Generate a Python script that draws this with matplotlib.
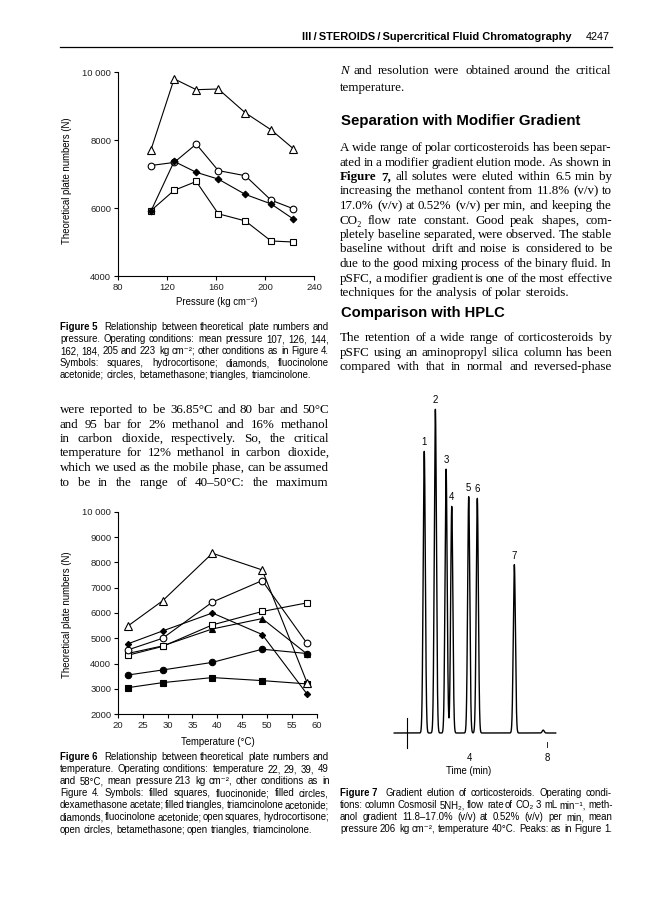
import numpy as np
import matplotlib
matplotlib.use('Agg')
import matplotlib.pyplot as plt

W, H = 668, 900
SERIF = ['Liberation Serif', 'DejaVu Serif']
SANS = ['Liberation Sans', 'DejaVu Sans']

# ---- figure 5 data (pressure series) ----
pressure = [107, 126, 144, 162, 184, 205, 223]
f5_triangles = [7700, 9800, 9480, 9500, 8800, 8300, 7750]
f5_circles = [7250, 7340, 7880, 7100, 6950, 6230, 5980]
f5_diamonds = [5900, 7370, 7050, 6850, 6400, 6120, 5680]
f5_squares = [5920, 6520, 6780, 5830, 5620, 5030, 5000]

# ---- figure 6 data (temperature series) ----
temperature = [22, 29, 39, 49, 58]
f6_filled_squares = [3050, 3250, 3450, 3330, 3200]
f6_filled_circles = [3550, 3750, 4050, 4570, 4400]
f6_filled_triangles = [4400, 4700, 5370, 5780, 4380]
f6_diamonds = [4780, 5290, 6000, 5150, 2800]
f6_open_squares = [4330, 4680, 5530, 6060, 6400]
f6_open_circles = [4540, 5000, 6430, 7280, 4800]
f6_open_triangles = [5480, 6480, 8360, 7700, 3250]

# ---- figure 7 data (chromatogram peaks) ----
peak_labels = ['1', '2', '3', '4', '5', '6', '7']
peak_times = [1.69, 2.26, 2.81, 3.10, 3.97, 4.41, 6.31]
peak_heights = [87, 100, 81.5, 70, 73, 72.5, 52]
bump_time, bump_height = 7.79, 0.9
inject_time = 0.79
run_start, run_end = 0.15, 8.43
time_ticks = [4, 8]

fig = plt.figure(figsize=(W / 100, H / 100), dpi=100)
renderer = fig.canvas.get_renderer()


def fx(x):
    return x / W


def fy(y):
    return 1 - y / H


def space_width(size, fam):
    a = fig.text(0, 0, 'n n', fontsize=size, family=fam)
    b = fig.text(0, 0, 'nn', fontsize=size, family=fam)
    w = a.get_window_extent(renderer).width - b.get_window_extent(renderer).width
    a.remove()
    b.remove()
    return w


def put_line(x0, x1, y, text, size, fam, justify=True):
    # one text per word so the line can be spread to both margins;
    # baseline kept on a whole pixel so the words sit on the same row
    y = round(y)
    arts = []
    for w in text.split(' '):
        weight, style = 'normal', 'normal'
        if w.startswith('^b'):
            weight, w = 'bold', w[2:]
        elif w.startswith('^i'):
            style, w = 'italic', w[2:]
        if w == '|':
            w = ''
        arts.append(fig.text(fx(x0), fy(y), w.replace('~', ' '), fontsize=size,
                             family=fam, weight=weight, style=style, va='baseline'))
    widths = [t.get_window_extent(renderer).width if t.get_text() else 0.0 for t in arts]
    sp = space_width(size, fam)
    gap = sp
    if justify and len(arts) > 1:
        gap = max((x1 - x0 - sum(widths)) / (len(arts) - 1), 0.4 * sp)
    x = x0
    for t, wd in zip(arts, widths):
        t.set_x(fx(round(x)))
        x += wd + gap


def put_par(x0, x1, y0, step, lines, size, fam, last=False):
    for i, ln in enumerate(lines):
        just = last or i < len(lines) - 1
        put_line(x0, x1, y0 + i * step, ln, size, fam, just)


def fit_text(x_right, y, s, width, size0, fam, weight='normal'):
    t = fig.text(fx(x_right), fy(y), s, fontsize=size0, family=fam, weight=weight,
                 ha='right', va='baseline')
    w = t.get_window_extent(renderer).width
    t.set_fontsize(size0 * width / w)
    return t


# ---- running header ----
fit_text(572, 40, 'III\u2009/\u2009STEROIDS\u2009/\u2009Supercritical Fluid Chromatography', 269, 8,
         SANS, 'bold')
fig.text(fx(610), fy(40), '4247', fontsize=7.8, family=SANS, ha='right', va='baseline')
fig.add_artist(plt.Line2D([fx(60), fx(612)], [fy(47), fy(47)], color='black', lw=0.9))

BODY = 9.4
STEP = 14.5

# ---- right column ----
put_par(340, 612, 74, 17, ['^iN and resolution were obtained around the critical', 'temperature.'],
        BODY, SERIF)
t = fit_text(582, 125, 'Separation with Modifier Gradient', 241, 9, SANS, 'bold')
t.set_x(fx(341)); t.set_ha('left')
put_par(340, 612, 151, STEP, [
    'A wide range of polar corticosteroids has been separ-',
    'ated in a modifier gradient elution mode. As shown in',
    '^bFigure ^b7, all solutes were eluted within 6.5 min by',
    'increasing the methanol content from 11.8% (v/v) to',
    '17.0% (v/v) at 0.52% (v/v) per min, and keeping the',
    'CO\u2082 flow rate constant. Good peak shapes, com-',
    'pletely baseline separated, were observed. The stable',
    'baseline without drift and noise is considered to be',
    'due to the good mixing process of the binary fluid. In',
    'pSFC, a modifier gradient is one of the most effective',
    'techniques for the analysis of polar steroids.'], BODY, SERIF)
t = fit_text(505, 317, 'Comparison with HPLC', 164, 9, SANS, 'bold')
t.set_x(fx(341)); t.set_ha('left')
put_par(340, 612, 341, STEP, [
    'The retention of a wide range of corticosteroids by',
    'pSFC using an aminopropyl silica column has been',
    'compared with that in normal and reversed-phase'], BODY, SERIF, last=True)

# ---- left column text ----
put_par(60, 329, 413, STEP, [
    'were reported to be 36.85\u00b0C and 80 bar and 50\u00b0C',
    'and 95 bar for 2% methanol and 16% methanol',
    'in carbon dioxide, respectively. So, the critical',
    'temperature for 12% methanol in carbon dioxide,',
    'which we used as the mobile phase, can be assumed',
    'to be in the range of 40\u201350\u00b0C: the maximum'], BODY, SERIF, last=True)

CAP = 6.9
CSTEP = 12.1
put_par(60, 329, 330, CSTEP, [
    '^bFigure~5 | Relationship between theoretical plate numbers and',
    'pressure. Operating conditions: mean pressure 107, 126, 144,',
    '162, 184, 205 and 223 kg cm\u207b\u00b2; other conditions as in Figure 4.',
    'Symbols: squares, hydrocortisone; diamonds, fluocinolone',
    'acetonide; circles, betamethasone; triangles, triamcinolone.'], CAP, SANS)
put_par(60, 329, 760, CSTEP, [
    '^bFigure~6 | Relationship between theoretical plate numbers and',
    'temperature. Operating conditions: temperature 22, 29, 39, 49',
    'and 58\u00b0C, mean pressure 213 kg cm\u207b\u00b2, other conditions as in',
    'Figure 4. Symbols: filled squares, fluocinonide; filled circles,',
    'dexamethasone acetate; filled triangles, triamcinolone acetonide;',
    'diamonds, fluocinolone acetonide; open squares, hydrocortisone;',
    'open circles, betamethasone; open triangles, triamcinolone.'], CAP, SANS)
put_par(340, 612, 796, CSTEP, [
    '^bFigure~7 | Gradient elution of corticosteroids. Operating condi-',
    'tions: column Cosmosil 5NH\u2082, flow rate of CO\u2082 3 mL min\u207b\u00b9, meth-',
    'anol gradient 11.8\u201317.0% (v/v) at 0.52% (v/v) per min, mean',
    'pressure 206 kg cm\u207b\u00b2, temperature 40\u00b0C. Peaks: as in Figure 1.'], CAP, SANS)


def style_axes(ax):
    for s in ['top', 'right']:
        ax.spines[s].set_visible(False)
    for s in ['left', 'bottom']:
        ax.spines[s].set_linewidth(0.8)
    ax.tick_params(direction='out', length=2.7, width=0.8, pad=2, labelsize=6.8,
                   labelcolor='#222222')
    for lab in ax.get_xticklabels() + ax.get_yticklabels():
        lab.set_family(SANS)
    ax.set_facecolor('none')


def fmt_n(v):
    return '10 000' if v >= 10000 else str(int(v))


def series(ax, x, y, marker, filled, ms):
    ax.plot(x, y, color='black', lw=0.8, marker=marker, ms=ms, mew=0.8,
            mfc='black' if filled else 'white', mec='black', clip_on=False)


# ---- figure 5 ----
ax5 = fig.add_axes([fx(117.7), fy(276), (314 - 117.7) / W, (276 - 72) / H])
series(ax5, pressure, f5_squares, 's', False, 4.6)
series(ax5, pressure, f5_circles, 'o', False, 4.8)
series(ax5, pressure, f5_triangles, '^', False, 5.2)
series(ax5, pressure, f5_diamonds, 'D', True, 3.4)
ax5.set_xlim(80, 240)
ax5.set_ylim(4000, 10000)
ax5.set_xticks([80, 120, 160, 200, 240])
ax5.set_yticks([4000, 6000, 8000, 10000])
ax5.set_yticklabels([fmt_n(v) for v in [4000, 6000, 8000, 10000]])
style_axes(ax5)
fig.text(fx(67), fy(181), 'Theoretical plate numbers (N)', rotation=90, fontsize=6.9,
         family=SANS, ha='center', va='center')
fig.text(fx(217), fy(302), 'Pressure (kg cm\u207b\u00b2)', fontsize=6.9, family=SANS,
         ha='center', va='center')

# ---- figure 6 ----
ax6 = fig.add_axes([fx(117.7), fy(714.3), (317 - 117.7) / W, (714.3 - 511.7) / H])
series(ax6, temperature, f6_filled_squares, 's', True, 4.4)
series(ax6, temperature, f6_filled_circles, 'o', True, 4.6)
series(ax6, temperature, f6_filled_triangles, '^', True, 4.8)
series(ax6, temperature, f6_open_squares, 's', False, 4.6)
series(ax6, temperature, f6_open_circles, 'o', False, 4.8)
series(ax6, temperature, f6_open_triangles, '^', False, 5.2)
series(ax6, temperature, f6_diamonds, 'D', True, 3.2)
ax6.set_xlim(20, 60)
ax6.set_ylim(2000, 10000)
ax6.set_xticks(range(20, 61, 5))
yt6 = list(range(2000, 10001, 1000))
ax6.set_yticks(yt6)
ax6.set_yticklabels([fmt_n(v) for v in yt6])
style_axes(ax6)
fig.text(fx(67), fy(615), 'Theoretical plate numbers (N)', rotation=90, fontsize=6.9,
         family=SANS, ha='center', va='center')
fig.text(fx(218), fy(742), 'Temperature (\u00b0C)', fontsize=6.9, family=SANS,
         ha='center', va='center')

# ---- figure 7 (chromatogram) ----
px_per_min = 19.5
px_per_unit = 3.237
ax7 = fig.add_axes([fx(391.3), fy(733 + 20 * px_per_unit), 9 * px_per_min / W,
                    125 * px_per_unit / H])
ax7.set_xlim(0, 9)
ax7.set_ylim(-20, 105)
ax7.axis('off')
t = np.linspace(run_start, run_end, 4000)
sig = np.full(t.shape, 0.0)
for tr, h in zip(peak_times, peak_heights):
    sig += h * np.exp(-0.5 * ((t - tr) / 0.055) ** 2)
sig += bump_height * np.exp(-0.5 * ((t - bump_time) / 0.05) ** 2)
ax7.plot(t, sig, color='black', lw=1.0)
ax7.plot([inject_time, inject_time], [-4.6, 4.6], color='black', lw=0.8)
ax7.plot([time_ticks[-1]] * 2, [-2.7, -4.2], color='black', lw=0.6)
for lab, tr, h in zip(peak_labels, peak_times, peak_heights):
    ax7.annotate(lab, (tr, h), xytext=(0, 9), textcoords='offset pixels',
                 ha='center', va='center', fontsize=6.9, family=SANS)
for tk in time_ticks:
    ax7.text(tk, -7.7, str(tk), ha='center', va='center', fontsize=6.9, family=SANS)
fig.text(fx(469), fy(771), 'Time (min)', fontsize=6.9, family=SANS, ha='center', va='center')

fig.savefig('out.png', dpi=100)
